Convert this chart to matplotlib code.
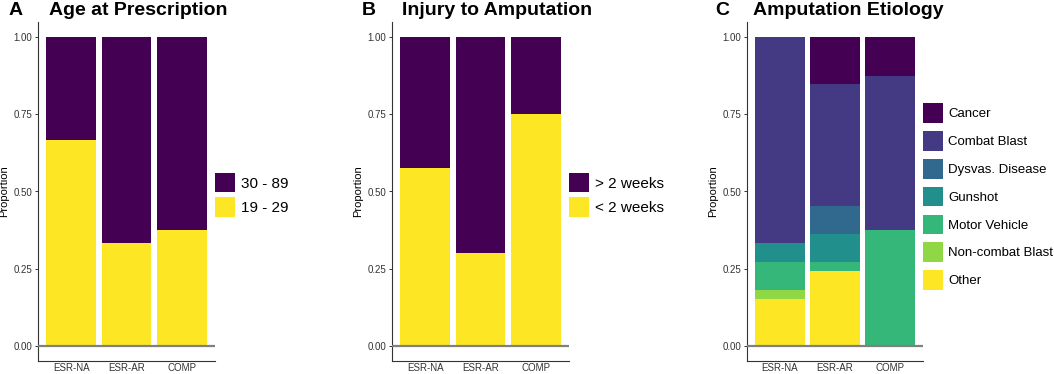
import numpy as np
import matplotlib
matplotlib.use('Agg')
import matplotlib.pyplot as plt

plt.rcParams['font.family'] = ['Liberation Sans', 'DejaVu Sans']

groups = ['ESR-NA', 'ESR-AR', 'COMP']

# panel A: age at prescription (bottom -> top)
age_levels = ['19 - 29', '30 - 89']
age_props = [[2/3, 1/3, 3/8],
             [1/3, 2/3, 5/8]]

# panel B: injury to amputation
inj_levels = ['< 2 weeks', '> 2 weeks']
inj_props = [[0.575, 0.302, 0.75],
             [0.425, 0.698, 0.25]]

# panel C: amputation etiology (counts out of group totals)
eti_levels = ['Other', 'Non-combat Blast', 'Motor Vehicle', 'Gunshot',
              'Dysvas. Disease', 'Combat Blast', 'Cancer']
eti_counts = [[5, 8, 0],
              [1, 0, 0],
              [3, 1, 3],
              [2, 3, 0],
              [0, 3, 0],
              [22, 13, 4],
              [0, 5, 1]]

viridis2 = ['#FDE725', '#440154']
viridis7 = ['#FDE725', '#8FD744', '#35B779', '#21908C', '#31688E', '#443A83', '#440154']

W, H = 1054, 374
fig = plt.figure(figsize=(W / 100, H / 100), dpi=100)


def panel(left, right, levels, props, colors, tag, tag_x, title, title_x,
          fontsize, hlen, hheight, lspace, tpad, ly):
    ax = fig.add_axes([left / W, (H - 361) / H, (right - left) / W, (361 - 22) / H])
    props = np.asarray(props, dtype=float)
    props = props / props.sum(axis=0)
    x = np.arange(len(groups))
    bottom = np.zeros(len(groups))
    handles = []
    for lev, vals, col in zip(levels, props, colors):
        b = ax.bar(x, vals, bottom=bottom, width=0.9, color=col, linewidth=0, label=lev)
        handles.append(b)
        bottom += vals
    ax.axhline(0, color='#808080', lw=1.6, zorder=3)
    ax.set_xlim(-0.6, len(groups) - 0.4)
    ax.set_ylim(-0.05, 1.05)
    ax.set_yticks([0, 0.25, 0.5, 0.75, 1.0])
    ax.set_yticklabels(['0.00', '0.25', '0.50', '0.75', '1.00'])
    ax.set_xticks(x)
    ax.set_xticklabels(groups)
    ax.tick_params(axis='y', length=2.5, width=0.7, pad=1.5, labelsize=7, colors='#333333')
    ax.tick_params(axis='x', length=0, pad=1.5, labelsize=7, colors='#333333')
    for s in ['top', 'right']:
        ax.spines[s].set_visible(False)
    for s in ['left', 'bottom']:
        ax.spines[s].set_color('#333333')
        ax.spines[s].set_linewidth(0.8)
    ax.set_ylabel('Proportion', fontsize=8, labelpad=3)
    ax.legend(handles[::-1], levels[::-1], loc='center left', bbox_to_anchor=(1.0, ly),
              frameon=False, fontsize=fontsize, borderpad=0, borderaxespad=0,
              handlelength=hlen, handleheight=hheight, labelspacing=lspace,
              handletextpad=tpad)
    fig.text(tag_x / W, (H - 15) / H, tag, fontsize=14, fontweight='bold', va='baseline')
    fig.text(title_x / W, (H - 15) / H, title, fontsize=14, fontweight='bold', va='baseline')
    return ax


panel(38, 215, age_levels, age_props, viridis2, 'A', 9, 'Age at Prescription', 49,
      11, 1.31, 1.585, 0.32, 0.4, 0.49)
panel(392, 569, inj_levels, inj_props, viridis2, 'B', 362, 'Injury to Amputation', 402,
      11, 1.31, 1.585, 0.32, 0.4, 0.49)
panel(747, 923, eti_levels, eti_counts, viridis7, 'C', 715, 'Amputation Etiology', 753,
      9.5, 1.52, 1.895, 0.63, 0.38, 0.485)

fig.savefig('out.png', dpi=100)
